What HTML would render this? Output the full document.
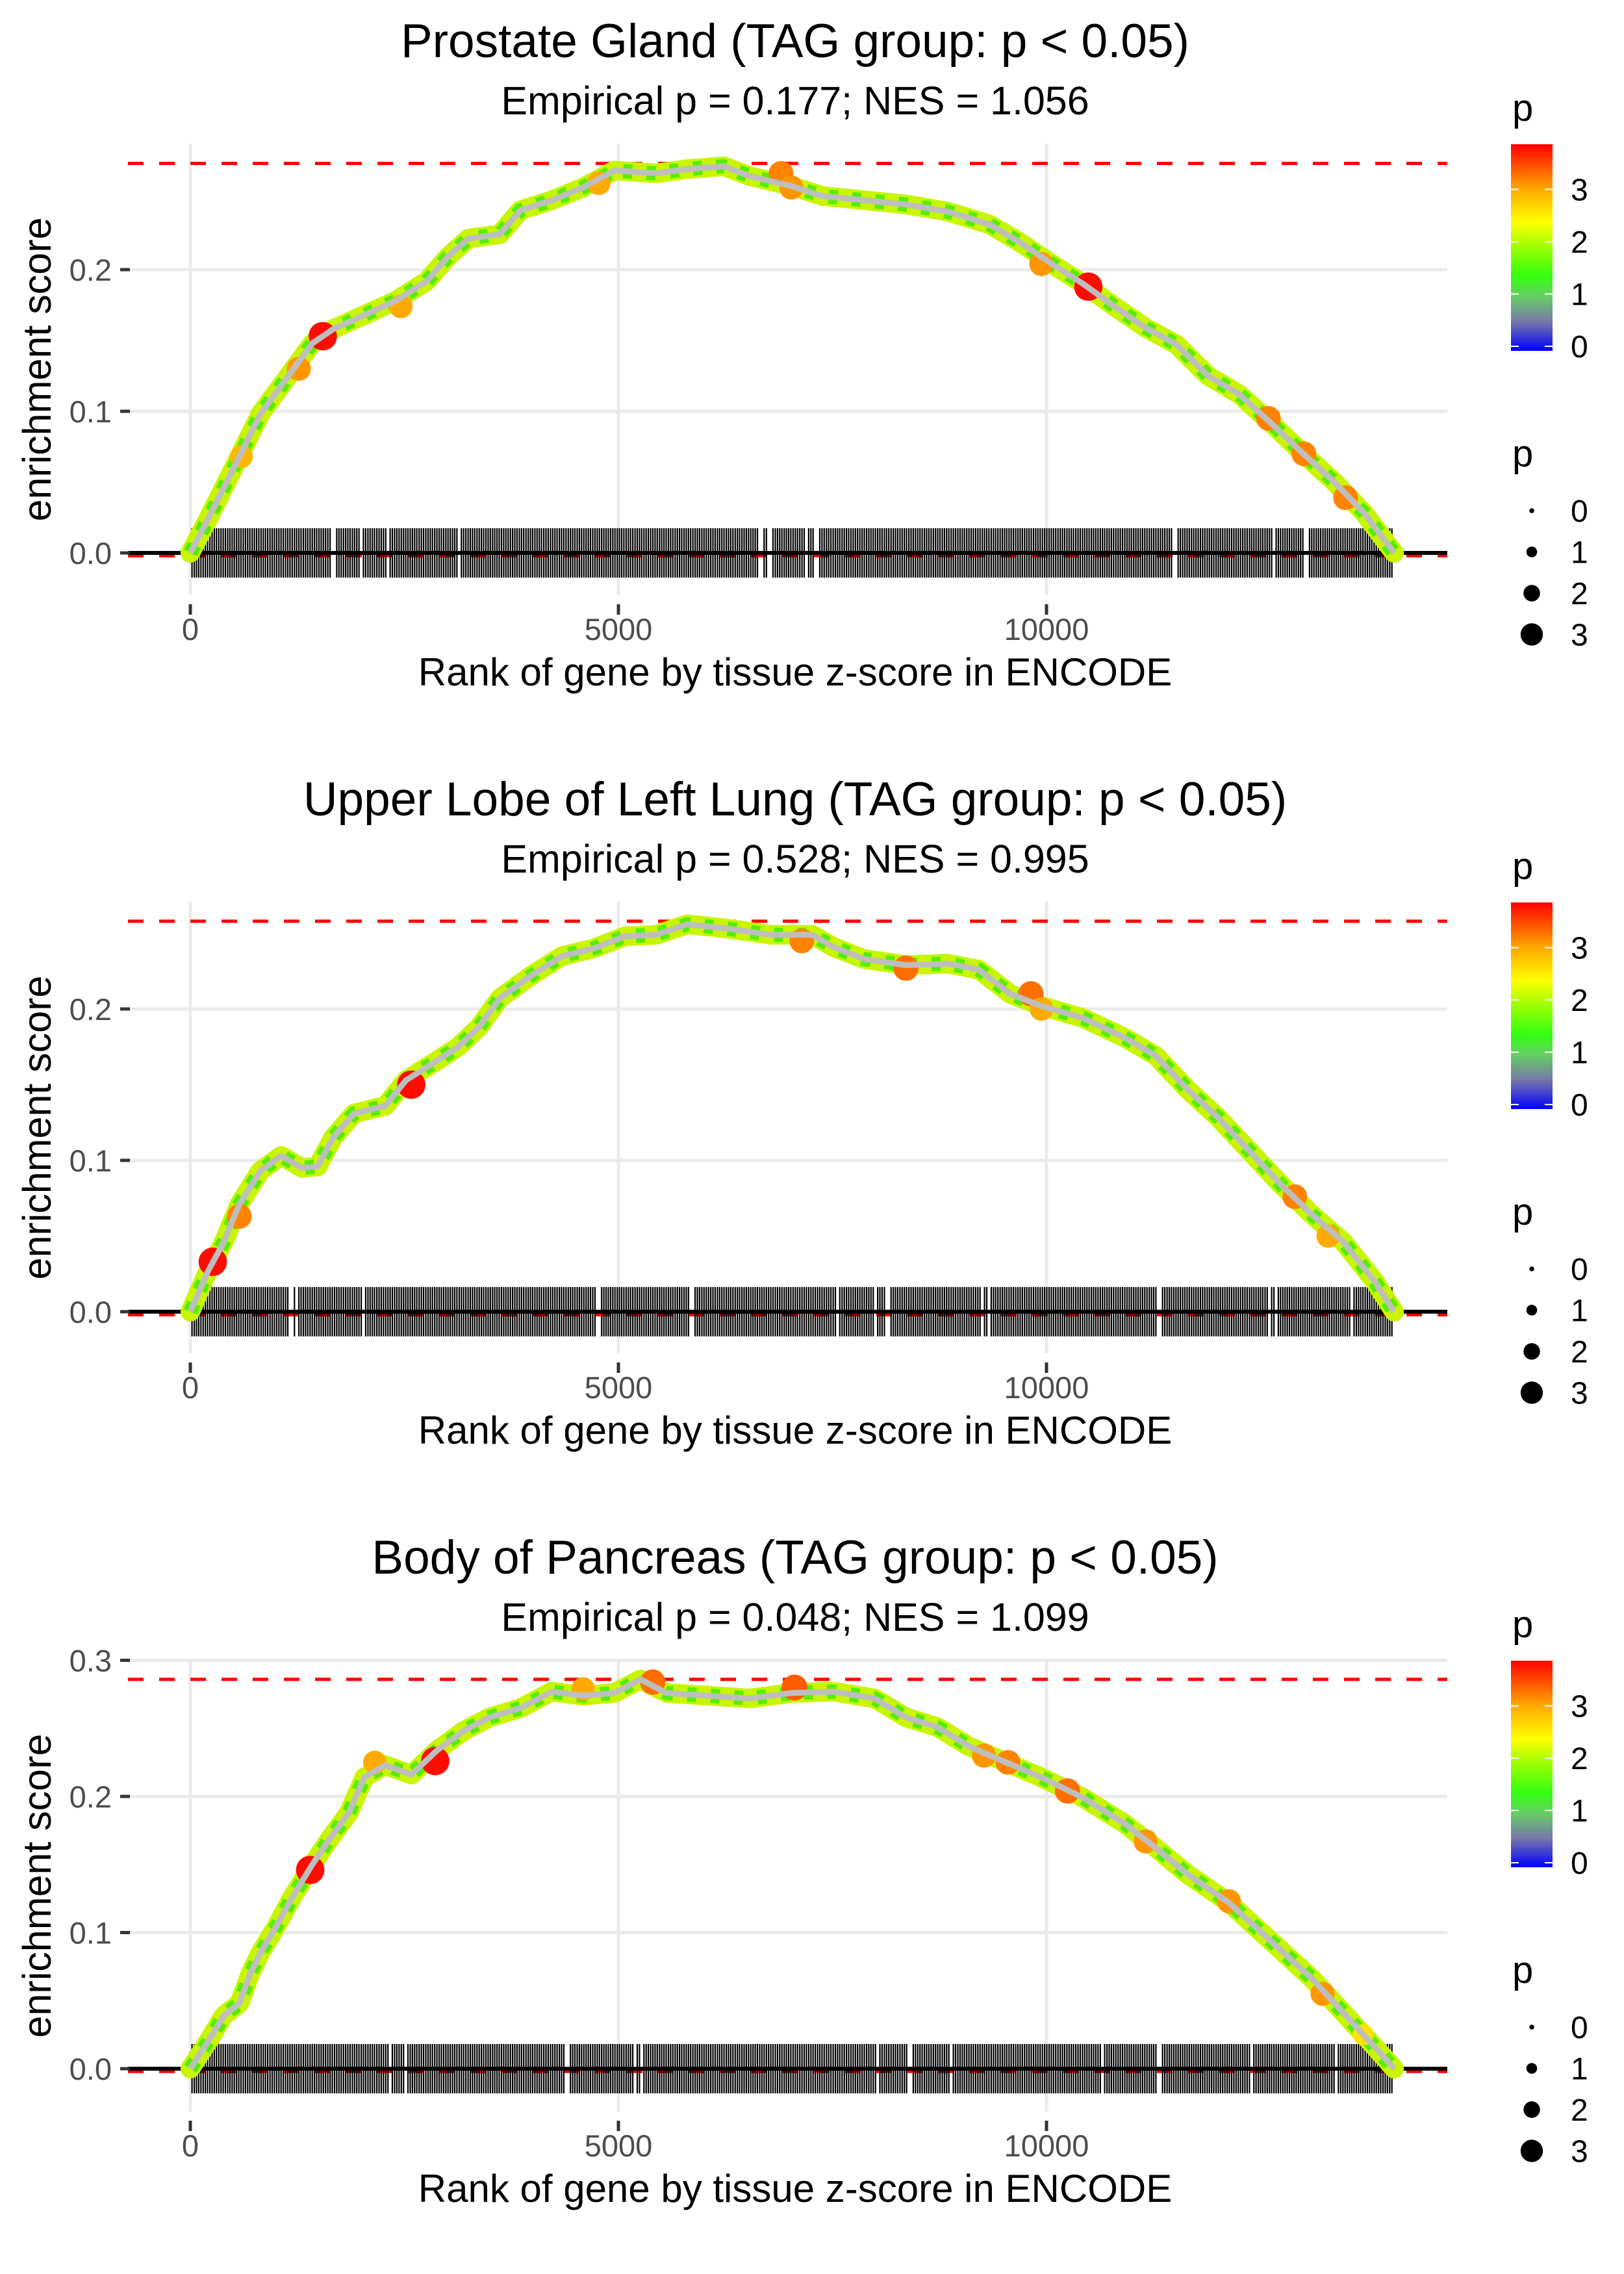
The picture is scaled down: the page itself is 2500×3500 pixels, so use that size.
<!DOCTYPE html>
<html><head><meta charset="utf-8">
<style>
html,body{margin:0;padding:0;background:#fff;}
svg{display:block;font-family:"Liberation Sans",Arial,sans-serif;}
</style></head>
<body>
<svg id="chart" width="2500" height="3500" viewBox="0 0 2500 3500" xmlns="http://www.w3.org/2000/svg">
<defs>
<linearGradient id="pgrad" x1="0" y1="1" x2="0" y2="0">
<stop offset="0" stop-color="#0000ff"/>
<stop offset="0.14" stop-color="#7777aa"/>
<stop offset="0.26" stop-color="#66cc66"/>
<stop offset="0.36" stop-color="#33ff11"/>
<stop offset="0.52" stop-color="#aaff00"/>
<stop offset="0.62" stop-color="#ffff00"/>
<stop offset="0.78" stop-color="#ffaa00"/>
<stop offset="1" stop-color="#ff0000"/>
</linearGradient>
</defs>
<g id="root"></g>
</svg>
<script>
// ---- data ----
const panelTitles = ["Prostate Gland (TAG group: p < 0.05)", "Upper Lobe of Left Lung (TAG group: p < 0.05)", "Body of Pancreas (TAG group: p < 0.05)"];
const panelSubtitles = ["Empirical p = 0.177; NES = 1.056", "Empirical p = 0.528; NES = 0.995", "Empirical p = 0.048; NES = 1.099"];
const xTicks = [0, 5000, 10000];
const xTickLabels = ["0", "5000", "10000"];
const yTicks1 = [0, 0.1, 0.2];
const yTicks2 = [0, 0.1, 0.2];
const yTicks3 = [0, 0.1, 0.2, 0.3];
const maxES = [0.275, 0.258, 0.286];
const minES = [-0.002, -0.002, -0.002];
const ranks1 = [0,208,573,817,1182,1425,1668,2033,2398,2763,3006,3249,3614,3857,4222,4587,4952,5439,5804,6230,6534,7020,7385,7872,8358,8845,9332,9697,10062,10427,10792,11157,11522,11887,12252,12617,12982,13347,13712,14060];
const es1 = [0,0.024,0.068,0.098,0.128,0.148,0.158,0.168,0.178,0.192,0.209,0.222,0.225,0.242,0.249,0.258,0.270,0.268,0.271,0.273,0.266,0.259,0.252,0.249,0.246,0.241,0.232,0.219,0.204,0.190,0.174,0.159,0.147,0.125,0.112,0.092,0.071,0.051,0.028,0];
const ranks2 = [0,208,390,573,817,1060,1304,1486,1668,1912,2277,2520,2885,3128,3371,3614,3979,4344,4709,5074,5439,5804,6291,6777,7264,7507,7872,8358,8845,9210,9575,9940,10427,10914,11279,11644,12009,12373,12738,13103,13468,13834,14060];
const es2 = [0,0.027,0.046,0.071,0.093,0.103,0.095,0.096,0.115,0.131,0.136,0.153,0.166,0.175,0.188,0.207,0.222,0.235,0.240,0.248,0.249,0.256,0.253,0.249,0.249,0.241,0.233,0.229,0.230,0.226,0.210,0.202,0.194,0.181,0.169,0.147,0.128,0.106,0.084,0.064,0.046,0.020,0];
const ranks3 = [0,208,390,573,695,817,999,1182,1425,1608,1851,2033,2277,2581,2885,3189,3493,3857,4222,4587,4952,5256,5560,6047,6534,7020,7507,7993,8358,8723,9088,9453,9940,10427,10914,11279,11644,12130,12617,13103,13468,13834,14060];
const es3 = [0,0.020,0.039,0.048,0.069,0.085,0.104,0.125,0.150,0.167,0.188,0.214,0.223,0.216,0.234,0.248,0.258,0.265,0.277,0.274,0.276,0.286,0.276,0.274,0.272,0.276,0.277,0.272,0.258,0.251,0.237,0.227,0.214,0.199,0.180,0.162,0.143,0.122,0.094,0.066,0.041,0.016,0];
const hitRanks1 = [597,1267,1547,2459,4770,6899,7020,9940,10488,12592,13006,13493];
const hitES1 = [0.068,0.130,0.153,0.174,0.261,0.268,0.258,0.204,0.188,0.095,0.070,0.039];
const hitP1 = [2.9,3.1,3.8,3.0,3.0,3.2,3.1,3.1,3.8,3.2,3.2,3.2];
const hitRanks2 = [262,573,2580,7142,8358,9818,9940,12900,13290];
const hitES2 = [0.033,0.063,0.150,0.245,0.227,0.210,0.200,0.076,0.050];
const hitP2 = [3.8,3.2,3.8,3.2,3.3,3.3,3.0,3.2,3.0];
const hitRanks3 = [1400,2155,2860,4587,5400,7057,9270,9550,10245,11157,12130,13225,13700];
const hitES3 = [0.146,0.225,0.226,0.279,0.284,0.280,0.230,0.225,0.204,0.167,0.123,0.055,0.025];
const hitP3 = [3.8,3.0,3.8,3.0,3.3,3.4,3.1,3.2,3.3,3.1,3.1,3.1,2.6];
const rugGaps1 = [[1650,1690],[1980,2005],[2290,2330],[3140,3165],[6640,6680],[6740,6790],[7180,7220],[7290,7330],[11480,11520],[12640,12680],[13010,13050]];
const rugGaps2 = [[1160,1190],[1230,1260],[2000,2040],[4740,4780],[5840,5870],[7540,7570],[7980,8010],[8120,8160],[9240,9270],[9310,9340],[11300,11340],[12580,12610],[12660,12690],[13550,13580]];
const rugGaps3 = [[2310,2350],[2500,2540],[4380,4420],[5170,5200],[5250,5280],[8020,8050],[8390,8420],[8880,8910],[10630,10660],[11300,11330],[12390,12420],[13370,13400]];
const rugStart = 20, rugEnd = 14040, rugStep = 26;
const legendTicks = [0,1,2,3];

// ---- layout ----
const NS = "http://www.w3.org/2000/svg";
const root = document.getElementById('root');
function mk(tag, attrs, parent, text){
  const e = document.createElementNS(NS, tag);
  for (const k in attrs) e.setAttribute(k, attrs[k]);
  if (text !== undefined) e.textContent = text;
  (parent || root).appendChild(e);
  return e;
}
const PX0 = 197, PX1 = 2228, X0 = 293, XS = 0.1318;
function xs(r){ return X0 + r * XS; }
const OFF = 1167;
const domains = [[-0.0298, 0.289], [-0.0275, 0.2708], [-0.0315, 0.3002]];
const yTicksAll = [yTicks1, yTicks2, yTicks3];
const ranksAll = [ranks1, ranks2, ranks3], esAll = [es1, es2, es3];
const hitR = [hitRanks1, hitRanks2, hitRanks3], hitE = [hitES1, hitES2, hitES3], hitPv = [hitP1, hitP2, hitP3];
const gapsAll = [rugGaps1, rugGaps2, rugGaps3];

const stops = [[0,[0,0,255]],[0.55,[119,119,170]],[1,[102,204,102]],[1.4,[51,255,17]],[2,[170,255,0]],[2.4,[255,255,0]],[3,[255,170,0]],[3.86,[255,0,0]]];
function pcol(p){
  for (let i=1;i<stops.length;i++){
    if (p <= stops[i][0]){
      const a = stops[i-1], b = stops[i], t = (p-a[0])/(b[0]-a[0]);
      const c = a[1].map((v,j)=>Math.round(v+(b[1][j]-v)*t));
      return 'rgb('+c.join(',')+')';
    }
  }
  return 'rgb(255,0,0)';
}
function rad(p){ return 4 + 4.7 * p; }

for (let k = 0; k < 3; k++) {
  const top = 221 + k*OFF, bot = 916 + k*OFF;
  const dom = domains[k];
  const ys = v => bot - (v - dom[0]) / (dom[1] - dom[0]) * (bot - top);
  const g = mk('g', {});
  
  

  const t = mk('text', {x: 1224, y: 62 + k*OFF + 26, 'text-anchor': 'middle', 'font-size': 73, fill: '#000'}, g, panelTitles[k]);
  
  
  const st = mk('text', {x: 1224, y: 155 + k*OFF + 21, 'text-anchor': 'middle', 'font-size': 61, fill: '#000'}, g, panelSubtitles[k]);
  
  

  // grid
  yTicksAll[k].forEach(v => {
    const l = mk('line', {x1: PX0, x2: PX1, y1: ys(v), y2: ys(v), stroke: '#ebebeb', 'stroke-width': 5}, g);
    
    
  });
  xTicks.forEach(v => {
    const l = mk('line', {x1: xs(v), x2: xs(v), y1: top, y2: bot, stroke: '#ebebeb', 'stroke-width': 5}, g);
    
    
  });

  // reference lines
  const rl = mk('line', {x1: PX0, x2: PX1, y1: ys(maxES[k]), y2: ys(maxES[k]), stroke: '#ff0000', 'stroke-width': 5, 'stroke-dasharray': '24 24'}, g);
  
  
  const rl2 = mk('line', {x1: PX0, x2: PX1, y1: ys(minES[k]), y2: ys(minES[k]), stroke: '#ff0000', 'stroke-width': 5, 'stroke-dasharray': '24 24'}, g);
  
  

  // rug
  const y0 = ys(0);
  let d = '';
  const gaps = gapsAll[k];
  for (let r = rugStart; r <= rugEnd; r += rugStep) {
    if (gaps.some(gp => r >= gp[0] && r <= gp[1])) continue;
    const x = xs(r).toFixed(1);
    d += 'M' + x + ' ' + (y0 - 38) + 'V' + (y0 + 38);
  }
  const rug = mk('path', {d: d, stroke: '#000', 'stroke-width': 2.2, fill: 'none'}, g);
  
  

  const zl = mk('line', {x1: PX0, x2: PX1, y1: y0, y2: y0, stroke: '#000', 'stroke-width': 6}, g);
  
  

  // curve
  const rr = ranksAll[k], ee = esAll[k];
  const pts = rr.map((r, i) => xs(r).toFixed(1) + ',' + ys(ee[i]).toFixed(1)).join(' ');
  const band = mk('polyline', {points: pts, fill: 'none', stroke: '#c8f500', 'stroke-width': 30, 'stroke-linejoin': 'round', 'stroke-linecap': 'round'}, g);
  
  
  const band2 = mk('polyline', {points: pts, fill: 'none', stroke: '#55ee00', 'stroke-width': 22, 'stroke-dasharray': '14 22', 'stroke-linejoin': 'round'}, g);
  
  

  // highlighted hits
  hitR[k].forEach((r, i) => {
    const c = mk('circle', {cx: xs(r), cy: ys(hitE[k][i]), r: rad(hitPv[k][i]), fill: pcol(hitPv[k][i])}, g);
    
    
  });

  const line = mk('polyline', {points: pts, fill: 'none', stroke: '#bebebe', 'stroke-width': 9, 'stroke-linejoin': 'round'}, g);
  
  

  // y axis
  yTicksAll[k].forEach(v => {
    const tk = mk('line', {x1: 185, x2: 200, y1: ys(v), y2: ys(v), stroke: '#333', 'stroke-width': 5}, g);
    
    
    const lb = mk('text', {x: 172, y: ys(v) + 17, 'text-anchor': 'end', 'font-size': 47, fill: '#4d4d4d'}, g, v.toFixed(1));
    
    
  });
  const yt = mk('text', {x: 0, y: 0, 'text-anchor': 'middle', 'font-size': 61, fill: '#000', transform: 'translate(78,' + ((top + bot)/2) + ') rotate(-90)'}, g, 'enrichment score');
  
  

  // x axis
  xTicks.forEach((v, i) => {
    const tk = mk('line', {x1: xs(v), x2: xs(v), y1: bot + 14, y2: bot + 30, stroke: '#333', 'stroke-width': 5}, g);
    
    
    const lb = mk('text', {x: xs(v), y: 968 + k*OFF + 17, 'text-anchor': 'middle', 'font-size': 47, fill: '#4d4d4d'}, g, xTickLabels[i]);
    
    
  });
  const xt = mk('text', {x: 1224, y: 1034 + k*OFF + 21, 'text-anchor': 'middle', 'font-size': 60, fill: '#000'}, g, 'Rank of gene by tissue z-score in ENCODE');
  
  

  // color legend
  const lg = mk('g', {}, g);
  
  
  const lo = k*OFF;
  const lt = mk('text', {x: 2328, y: 172 + lo + 14, 'font-size': 58, fill: '#000'}, lg, 'p');
  
  
  const cb = mk('rect', {x: 2326, y: 222 + lo, width: 64, height: 318, fill: 'url(#pgrad)'}, lg);
  
  
  const cy = v => 533 + lo - v * 80.5;
  legendTicks.forEach(v => {
    const a = mk('line', {x1: 2326, x2: 2338, y1: cy(v), y2: cy(v), stroke: '#fff', 'stroke-width': 2}, lg);
    
    
    const b = mk('line', {x1: 2378, x2: 2390, y1: cy(v), y2: cy(v), stroke: '#fff', 'stroke-width': 2}, lg);
    
    
    const tl = mk('text', {x: 2418, y: cy(v) + 17, 'font-size': 48, fill: '#000'}, lg, String(v));
    
    
  });

  // size legend
  const sg = mk('g', {}, g);
  
  
  const stt = mk('text', {x: 2328, y: 704 + lo + 14, 'font-size': 58, fill: '#000'}, sg, 'p');
  
  
  legendTicks.forEach((v, i) => {
    const yy = 786 + lo + i * 63.5;
    const c = mk('circle', {cx: 2358, cy: yy, r: rad(v) * 0.95, fill: '#000'}, sg);
    
    
    const tl = mk('text', {x: 2418, y: yy + 17, 'font-size': 48, fill: '#000'}, sg, String(v));
    
    
  });
}
</script>
</body></html>
